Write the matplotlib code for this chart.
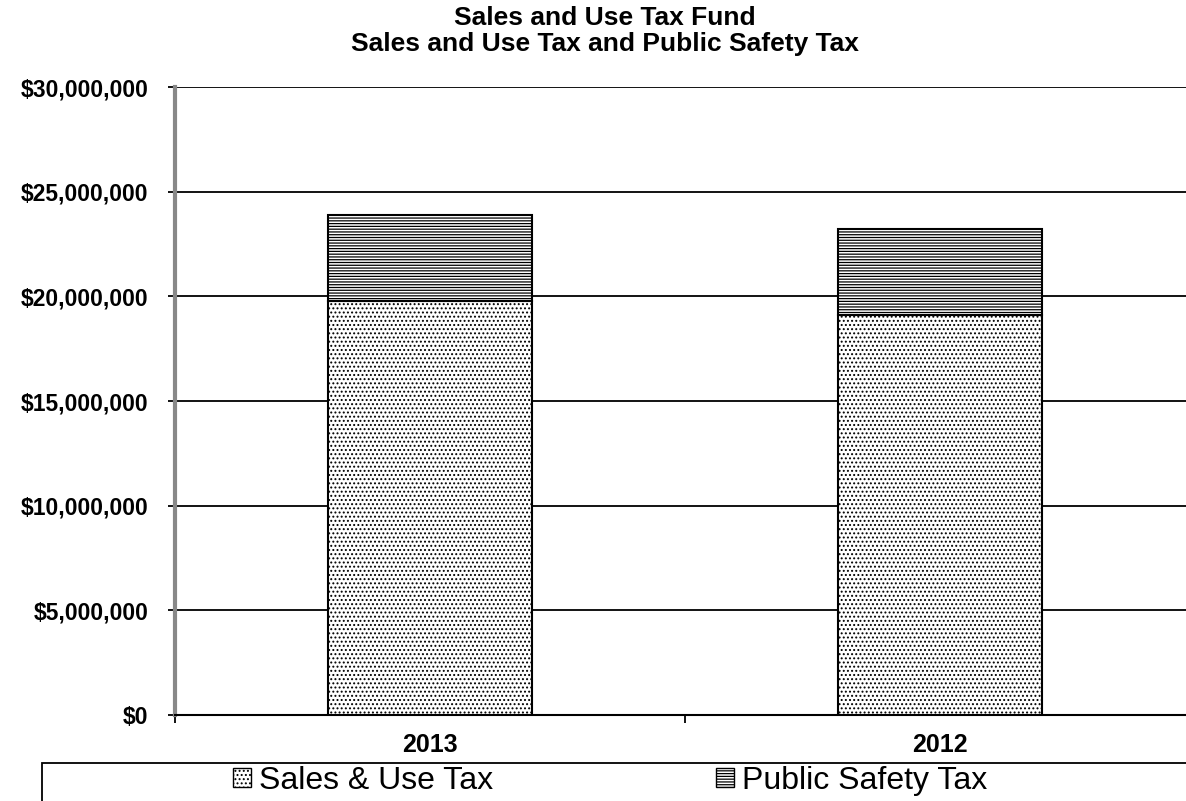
import matplotlib
matplotlib.use("Agg")
import matplotlib.pyplot as plt
from matplotlib.patches import Rectangle, Patch
from matplotlib.ticker import FuncFormatter
import numpy as np

years = ["2013", "2012"]
sales_use_tax = [19_800_000, 19_100_000]
public_safety_tax = [4_100_000, 4_100_000]
series_labels = ["Sales & Use Tax", "Public Safety Tax"]
title = "Sales and Use Tax Fund\nSales and Use Tax and Public Safety Tax"

plt.rcParams["font.family"] = ["Liberation Sans", "DejaVu Sans"]
plt.rcParams["hatch.linewidth"] = 0.9

fig = plt.figure(figsize=(11.86, 8.01), dpi=100)
ax = fig.add_axes([175 / 1186, 1 - 715 / 801, 1020 / 1186, (715 - 87) / 801])

x = np.arange(len(years))
width = 0.4
ax.bar(x, sales_use_tax, width, color="white", edgecolor="black",
       hatch="....", linewidth=1.5, zorder=3)
ax.bar(x, public_safety_tax, width, bottom=sales_use_tax, color="white",
       edgecolor="black", hatch="------", linewidth=1.5, zorder=3)

ax.set_xlim(-0.5, len(years) - 0.5)
ax.set_ylim(0, 30_000_000)
ax.set_yticks(np.arange(0, 30_000_001, 5_000_000))
ax.yaxis.set_major_formatter(FuncFormatter(lambda v, p: f"${v:,.0f}"))
ax.set_xticks(x)
ax.set_xticklabels(years, fontsize=18, fontweight="bold")
ax.set_xticks(np.arange(-0.5, len(years), 1.0), minor=True)
ax.tick_params(axis="x", which="major", length=0, pad=13)
ax.tick_params(axis="x", which="minor", length=6, width=1.3, direction="out")
ax.tick_params(axis="y", length=5, width=1.3, direction="out", labelsize=16.5, pad=14)
for lbl in ax.get_yticklabels():
    lbl.set_fontweight("bold")

ax.grid(axis="y", color="black", linewidth=1.3, zorder=0)
ax.set_axisbelow(True)
for s in ("top", "right"):
    ax.spines[s].set_visible(False)
ax.spines["left"].set_color("#888888")
ax.spines["left"].set_linewidth(3)
ax.spines["bottom"].set_linewidth(1.5)

fig.suptitle(title, fontsize=19, fontweight="bold", x=605 / 1186, y=0.993,
             va="top", linespacing=1.15)

# legend box along the bottom edge
fig.patches.append(Rectangle((42 / 1186, -0.02), 1.2, 0.02 + (801 - 763) / 801,
                             transform=fig.transFigure, fill=False,
                             edgecolor="black", linewidth=1.3))
handles = [Patch(facecolor="white", edgecolor="black", hatch="....", linewidth=1),
           Patch(facecolor="white", edgecolor="black", hatch="------", linewidth=1)]
fig.legend(handles, series_labels, loc="center", ncol=2, frameon=False,
           bbox_to_anchor=(610 / 1186, 1 - 781 / 801), fontsize=23,
           handlelength=0.55, handleheight=0.55, handletextpad=0.25,
           columnspacing=7.0)

fig.savefig("out.png", dpi=100, facecolor="white")
